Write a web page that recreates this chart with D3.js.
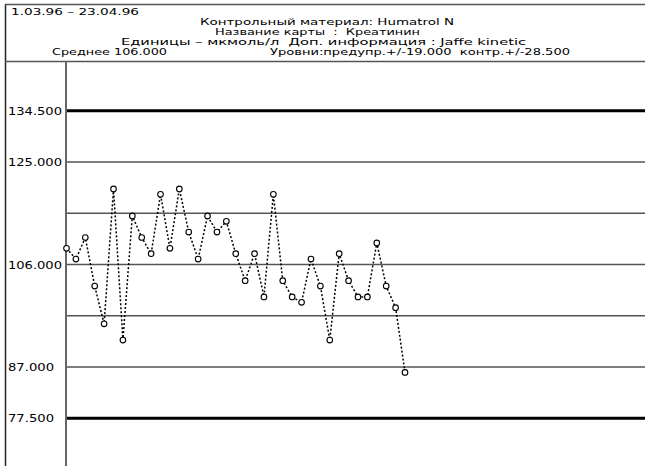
<!DOCTYPE html>
<html>
<head>
<meta charset="utf-8">
<script src="https://cdn.jsdelivr.net/npm/d3@7"></script>
<style>
  body { margin: 0; background: #fff; }
  svg { display: block; }
  text { font-family: "DejaVu Sans", sans-serif; font-size: 11px; fill: #000; }
  text.header { font-size: 9px; white-space: pre; }
</style>
</head>
<body>
<div id="main"></div>
<script>
// control chart: Humatrol N / creatinine
const mean = 106;
const limitLevels = [134.5, 125, 115.5, 106, 96.5, 87, 77.5];
const labelledLevels = [134.5, 125, 106, 87, 77.5];
const controlLevels = [134.5, 77.5];
const results = [109, 107, 111, 102, 95, 120, 92, 115, 111, 108, 119, 109, 120, 112, 107, 115,
    112, 114, 108, 103, 108, 100, 119, 103, 100, 99, 107, 102, 92, 108, 103, 100, 100, 110, 102, 98, 86];
const headerLines = [
    {text: '1.03.96 \u2013 23.04.96', x: 11, y: 15, w: 128},
    {text: 'Контрольный материал: Humatrol N', x: 200, y: 25, w: 254},
    {text: 'Название карты  :  Креатинин', x: 215, y: 35, w: 205},
    {text: 'Единицы \u2013 мкмоль/л  Доп. информация : Jaffe kinetic', x: 121, y: 45, w: 405},
    {text: 'Среднее 106.000', x: 52, y: 55, w: 115},
    {text: 'Уровни:предупр.+/-19.000  контр.+/-28.500', x: 270, y: 55, w: 300}
];

const width = 645;
const height = 466;
const left = 66;
const headerBottom = 61.5;

const svg = d3.select('#main').append('svg')
    .attr('width', width)
    .attr('height', height);

const y = d3.scaleLinear()
    .domain([77.5, 134.5])
    .range([418.3, 110.7]);
const x = d3.scaleLinear()
    .domain([0, results.length - 1])
    .range([left + 0.5, 405]);

// frame
svg.append('line')
    .attr('x1', 5.5).attr('x2', 5.5).attr('y1', 4).attr('y2', height)
    .attr('stroke', '#222').attr('stroke-width', 1.5);
svg.append('line')
    .attr('x1', 5).attr('x2', width).attr('y1', 4.5).attr('y2', 4.5)
    .attr('stroke', '#555').attr('stroke-width', 1.5);
svg.append('line')
    .attr('x1', 5).attr('x2', width).attr('y1', headerBottom).attr('y2', headerBottom)
    .attr('stroke', '#555').attr('stroke-width', 1.5);

svg.selectAll('text.header')
    .data(headerLines)
    .enter()
    .append('text')
    .attr('class', 'header')
    .attr('x', (d) => d.x)
    .attr('y', (d) => d.y)
    .attr('textLength', (d) => d.w)
    .attr('lengthAdjust', 'spacingAndGlyphs')
    .text((d) => d.text);

// level lines
svg.selectAll('line.level')
    .data(limitLevels)
    .enter()
    .append('line')
    .attr('class', 'level')
    .attr('x1', left).attr('x2', width)
    .attr('y1', (d) => y(d)).attr('y2', (d) => y(d))
    .attr('stroke', (d) => controlLevels.indexOf(d) >= 0 ? '#000' : '#555')
    .attr('stroke-width', (d) => controlLevels.indexOf(d) >= 0 ? 3 : 1.5);

svg.selectAll('text.tick')
    .data(labelledLevels)
    .enter()
    .append('text')
    .attr('class', 'tick')
    .attr('x', 8)
    .attr('y', (d) => y(d) + 4)
    .attr('textLength', (d) => d >= 100 ? 54 : 46)
    .attr('lengthAdjust', 'spacingAndGlyphs')
    .text((d) => d3.format('.3f')(d));

// axis
svg.append('line')
    .attr('x1', left).attr('x2', left).attr('y1', headerBottom).attr('y2', height)
    .attr('stroke', '#666').attr('stroke-width', 2);

const lineGenerator = d3.line()
    .x((d, i) => x(i))
    .y((d) => y(d));

svg.append('path')
    .attr('d', lineGenerator(results))
    .attr('fill', 'none')
    .attr('stroke', '#000')
    .attr('stroke-width', 1.5)
    .attr('stroke-dasharray', '2,2');

svg.selectAll('circle')
    .data(results)
    .enter()
    .append('circle')
    .attr('cx', (d, i) => x(i))
    .attr('cy', (d) => y(d))
    .attr('r', 2.8)
    .attr('fill', '#fff')
    .attr('stroke', '#000')
    .attr('stroke-width', 1.1);
</script>
</body>
</html>
